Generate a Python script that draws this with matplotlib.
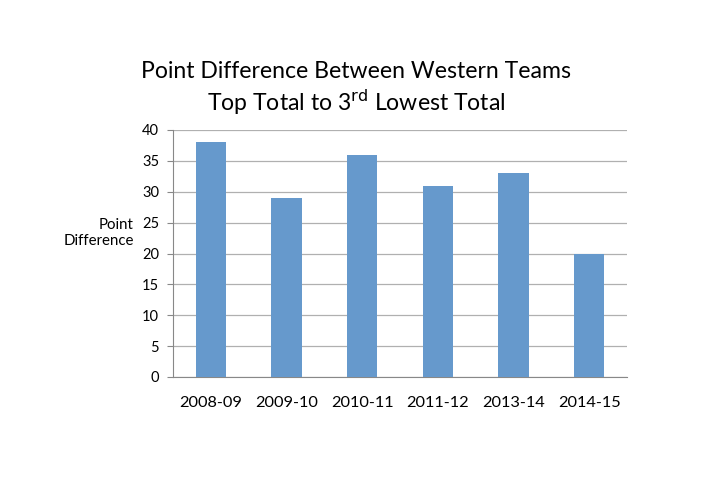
import matplotlib.pyplot as plt
import numpy as np

seasons = ["2008-09", "2009-10", "2010-11", "2011-12", "2013-14", "2014-15"]
point_diff = [38, 29, 36, 31, 33, 20]
y_ticks = [0, 5, 10, 15, 20, 25, 30, 35, 40]

plt.rcParams['font.family'] = ['Lato', 'DejaVu Sans']

fig = plt.figure(figsize=(7.12, 4.91), dpi=100)
ax = fig.add_axes([173 / 712, 1 - 377 / 491, 454 / 712, 247 / 491])

x = np.arange(len(seasons))
ax.bar(x, point_diff, width=0.4, color='#6699cc', zorder=3)

ax.set_xlim(-0.5, len(seasons) - 0.5)
ax.set_ylim(0, 40)
ax.set_yticks(y_ticks)
ax.set_xticks(x)
ax.set_xticklabels(seasons, fontsize=11.8)
ax.tick_params(axis='y', labelsize=10.5, length=4, color='#888888', pad=6)
ax.tick_params(axis='x', length=0, pad=14)
ax.grid(axis='y', color='#b0b0b0', linewidth=0.9, zorder=0)
for s in ['top', 'right']:
    ax.spines[s].set_visible(False)
ax.spines['left'].set_color('#888888')
ax.spines['bottom'].set_color('#888888')

ax.set_ylabel("Point\nDifference", rotation=0, fontsize=10.8, ha='right', va='center',
              multialignment='right')
ax.yaxis.set_label_coords(-0.086, 0.583)

fig.text(0.5, 1 - 72 / 491, "Point Difference Between Western Teams",
         ha='center', va='center', fontsize=16.6)
fig.text(0.5, 1 - 102 / 491, r"Top Total to 3$^{\rm rd}$ Lowest Total",
         ha='center', va='center', fontsize=16.6)

fig.savefig("out.png", dpi=100)
